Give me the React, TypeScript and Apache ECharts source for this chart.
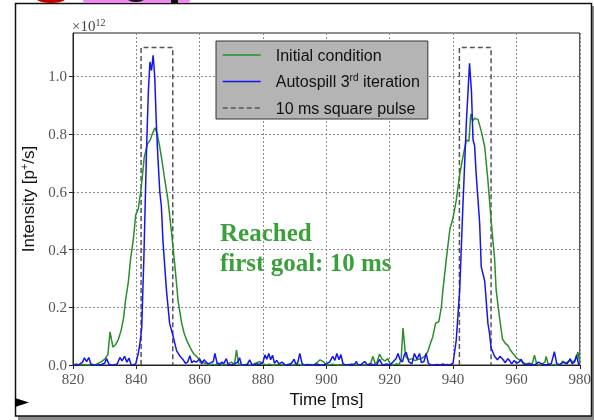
import React, { useEffect, useRef } from "react";
import * as echarts from "echarts";

// Time axis [ms] and intensity [10^12 p+/s] for the initial spill
const initialTime = [
  820, 821, 822, 823, 824, 825, 826, 827, 828, 829, 830, 831, 831.7, 832.6, 833.4, 834.3, 835.2, 836, 836.6,
  837.5, 838.2, 839, 839.8, 840.6, 841.5, 842.5, 843.5, 844.4, 845.2, 845.9, 846.6, 847.4, 848.2, 849, 850,
  851.1, 852.2, 853.2, 854.3, 855.1, 855.9, 857, 858, 859, 860, 861, 862, 863, 864, 865, 866, 867, 868, 869,
  870, 871, 871.6, 872.3, 873, 874, 875, 876, 877, 878, 879, 880, 881, 882, 883, 884, 885, 886, 887, 888, 889,
  890, 891, 892, 893, 894, 895, 896, 897, 898, 899, 900, 901, 902, 903, 904, 905, 906, 907, 908, 909, 910, 911,
  912, 913, 914, 914.7, 915.4, 916, 916.8, 917.6, 918.5, 919.4, 920, 921, 922, 923, 923.6, 924.2, 925, 926, 927,
  928, 929, 930, 931, 932, 933, 933.6, 934.5, 935.5, 936.3, 936.8, 937.9, 939, 940, 941, 942.1, 943.1, 944.2,
  945, 945.6, 946.2, 946.8, 947.9, 948.9, 950, 951, 952.1, 953.1, 953.6, 954.6, 955.6, 956.5, 957.3, 958.2,
  958.9, 960, 961, 962, 963, 964, 965, 965.7, 966.4, 967, 968, 969, 969.4, 970, 971, 972, 973, 974, 974.6,
  975.5, 976, 976.7, 977.5, 978.5, 979.4, 980,
];
const initialIntensity = [
  0.0, 0.004, 0.0, 0.002, 0.0, 0.0, 0.003, 0.0, 0.006, 0.012, 0.02, 0.035, 0.115, 0.062, 0.07, 0.088, 0.12,
  0.165, 0.225, 0.29, 0.37, 0.43, 0.52, 0.54, 0.61, 0.72, 0.765, 0.78, 0.805, 0.822, 0.8, 0.755, 0.7, 0.64,
  0.57, 0.46, 0.34, 0.22, 0.145, 0.11, 0.086, 0.06, 0.04, 0.03, 0.017, 0.01, 0.004, 0.0, 0.003, 0.0, 0.006,
  0.0, 0.0, 0.004, 0.01, 0.002, 0.052, 0.004, 0.0, 0.0, 0.003, 0.0, 0.004, 0.008, 0.012, 0.004, 0.0, 0.003,
  0.0, 0.0, 0.002, 0.0, 0.0, 0.003, 0.0, 0.0, 0.004, 0.0, 0.0, 0.0, 0.002, 0.0, 0.008, 0.018, 0.012, 0.0, 0.0,
  0.003, 0.0, 0.0, 0.002, 0.0, 0.0, 0.004, 0.0, 0.0, 0.002, 0.0, 0.0, 0.006, 0.03, 0.004, 0.01, 0.038, 0.02,
  0.014, 0.022, 0.006, 0.0, 0.004, 0.002, 0.02, 0.128, 0.03, 0.018, 0.022, 0.015, 0.02, 0.022, 0.03, 0.046,
  0.08, 0.098, 0.145, 0.15, 0.2, 0.26, 0.37, 0.47, 0.51, 0.57, 0.66, 0.72, 0.78, 0.775, 0.87, 0.845, 0.855,
  0.85, 0.81, 0.755, 0.64, 0.49, 0.37, 0.26, 0.17, 0.09, 0.075, 0.068, 0.05, 0.04, 0.025, 0.018, 0.01, 0.004,
  0.006, 0.004, 0.034, 0.004, 0.0, 0.002, 0.01, 0.03, 0.004, 0.0, 0.002, 0.0, 0.003, 0.014, 0.004, 0.01, 0.015,
  0.012, 0.014, 0.045, 0.01,
];

// Time axis [ms] and intensity [10^12 p+/s] after the third Autospill iteration
const autospillTime = [
  820, 821, 822, 823, 823.6, 824.3, 825, 825.6, 826, 827, 828, 829, 830, 830.6, 831.3, 832, 833, 834, 834.8,
  835.5, 836.3, 837, 837.7, 838.3, 839, 839.8, 840.6, 841.2, 841.7, 842.4, 843.2, 843.8, 844.3, 844.8, 845.3,
  845.8, 846.3, 846.8, 847.4, 847.9, 848.4, 849.5, 850.5, 851.6, 852.7, 853.8, 854.8, 855.5, 856.2, 856.9,
  857.5, 858.2, 859, 860, 860.6, 861.4, 862, 862.7, 863.5, 864.3, 864.8, 865.5, 866.3, 867, 867.6, 868.4, 869,
  870, 871, 872, 872.6, 873.2, 874, 875, 875.8, 876.5, 877, 878, 879, 880, 880.6, 881.2, 881.8, 882.4, 883,
  883.6, 884.3, 885, 886, 886.6, 887, 888, 889, 889.8, 890.4, 891, 891.6, 892.3, 893, 894, 895, 896, 897, 898,
  899, 900, 901, 902, 902.7, 903.3, 904, 904.6, 905.2, 906, 907, 908, 909, 909.5, 910, 911, 912.1, 913, 914,
  915, 916, 916.8, 917.5, 918, 919, 920, 921, 922, 922.6, 923.2, 924, 924.6, 925.2, 926, 927, 927.8, 928.6,
  929.4, 930, 930.8, 931.5, 932.2, 933, 934, 935, 936, 936.8, 937.5, 938, 939, 940, 941, 942.1, 943.1, 944.2,
  945.2, 945.8, 946.3, 946.8, 947.3, 948.4, 948.9, 950, 951, 951.5, 952, 953.1, 954, 954.8, 955.7, 956.5, 957.3,
  957.8, 958.5, 959.3, 960, 961, 961.5, 962.2, 963.1, 964, 965, 966, 967, 968, 969, 970, 971, 972, 972.7,
  973.6, 974, 975, 976, 977, 977.6, 978.3, 979, 979.6, 980,
];
const autospillIntensity = [
  0.0, 0.0, 0.002, 0.01, 0.025, 0.012, 0.026, 0.004, 0.0, 0.0, 0.0, 0.002, 0.006, 0.022, 0.004, 0.0, 0.0, 0.004,
  0.026, 0.014, 0.03, 0.01, 0.024, 0.002, 0.0, 0.004, 0.04, 0.08, 0.13, 0.38, 0.74, 0.95, 1.05, 1.02, 1.073, 1.0,
  0.84, 0.72, 0.6, 0.55, 0.43, 0.26, 0.145, 0.1, 0.05, 0.03, 0.018, 0.006, 0.01, 0.032, 0.008, 0.014, 0.01,
  0.022, 0.004, 0.018, 0.01, 0.004, 0.008, 0.012, 0.04, 0.006, 0.002, 0.01, 0.004, 0.022, 0.002, 0.0, 0.004,
  0.01, 0.025, 0.0, 0.0, 0.002, 0.018, 0.0, 0.0, 0.004, 0.002, 0.01, 0.035, 0.02, 0.04, 0.018, 0.034, 0.006,
  0.016, 0.004, 0.01, 0.004, 0.0, 0.0, 0.006, 0.02, 0.002, 0.01, 0.04, 0.006, 0.0, 0.002, 0.0, 0.0, 0.004, 0.0,
  0.0, 0.004, 0.01, 0.03, 0.016, 0.04, 0.018, 0.036, 0.006, 0.0, 0.002, 0.0, 0.004, 0.012, 0.0, 0.002, 0.012,
  0.0, 0.004, 0.0, 0.002, 0.02, 0.004, 0.0, 0.004, 0.0, 0.01, 0.022, 0.04, 0.02, 0.01, 0.036, 0.044, 0.012,
  0.004, 0.04, 0.02, 0.04, 0.008, 0.012, 0.04, 0.006, 0.0, 0.0, 0.002, 0.0, 0.004, 0.0, 0.002, 0.0, 0.006,
  0.086, 0.26, 0.55, 0.84, 1.045, 0.95, 0.78, 0.76, 0.66, 0.49, 0.34, 0.29, 0.145, 0.11, 0.06, 0.03, 0.018,
  0.03, 0.02, 0.008, 0.022, 0.016, 0.004, 0.016, 0.006, 0.012, 0.02, 0.004, 0.0, 0.004, 0.0, 0.002, 0.01, 0.004,
  0.0, 0.002, 0.004, 0.046, 0.006, 0.0, 0.004, 0.01, 0.004, 0.022, 0.004, 0.01, 0.034, 0.004, 0.0,
];

// 10 ms square reference pulses: [start, end] in ms and their height
const pulseWindows = [
  [841.5, 851.5],
  [942, 952],
];
const pulseHeight = 1.1;

const seriesNames = ["Initial condition", "Autospill 3rd iteration", "10 ms square pulse"];

const GREEN = "#2a8f2a";
const BLUE = "#1515f0";
const PULSE = "#555555";

const pair = (t: number[], v: number[]) => t.map((x, i) => [x, v[i]]);

export default function App() {
  const ref = useRef<HTMLDivElement>(null);

  useEffect(() => {
    const chart = echarts.init(ref.current!, null, { renderer: "svg" });

    const pulseSeries = pulseWindows.map(([a, b]) => ({
      name: seriesNames[2],
      type: "line",
      symbol: "none",
      z: 3,
      data: [
        [a, 0],
        [a, pulseHeight],
        [b, pulseHeight],
        [b, 0],
      ],
      lineStyle: { color: PULSE, width: 1.5, type: [5, 3] },
      itemStyle: { color: PULSE },
    }));

    const sansTitle = { fontFamily: "Liberation Sans", fontSize: 17, color: "#111" };
    const serifTick = { fontFamily: "Liberation Serif", fontSize: 15, color: "#555" };
    const gridLine = { show: true, lineStyle: { color: "#8a8a8a", type: [2, 2], width: 1 } };

    chart.setOption({
      animation: false,
      backgroundColor: "transparent",
      grid: {
        left: 73,
        right: 14,
        top: 33,
        bottom: 55,
        show: true,
        borderColor: "#222",
        borderWidth: 1,
        backgroundColor: "transparent",
      },
      xAxis: {
        type: "value",
        min: 820,
        max: 980,
        interval: 20,
        name: "Time [ms]",
        nameLocation: "middle",
        nameGap: 19,
        nameTextStyle: sansTitle,
        axisLine: { show: true, lineStyle: { color: "#222", width: 1 } },
        axisTick: { show: true, length: 4, lineStyle: { color: "#222" } },
        axisLabel: { ...serifTick, margin: 6 },
        splitLine: gridLine,
      },
      yAxis: {
        type: "value",
        min: 0,
        max: 1.15,
        interval: 0.2,
        name: "{a|Intensity [p}{s|+}{a|/s]}",
        nameLocation: "middle",
        nameGap: 33,
        nameRotate: 90,
        nameTextStyle: {
          ...sansTitle,
          rich: {
            a: { ...sansTitle, lineHeight: 20 },
            s: { fontFamily: "Liberation Sans", fontSize: 11, color: "#111", verticalAlign: "top", lineHeight: 20 },
          },
        },
        axisLine: { show: true, lineStyle: { color: "#222", width: 1 } },
        axisTick: { show: true, length: 4, lineStyle: { color: "#222" } },
        axisLabel: {
          ...serifTick,
          margin: 6,
          showMaxLabel: false,
          formatter: (v: number) => v.toFixed(1),
        },
        splitLine: gridLine,
      },
      legend: {
        left: 216,
        top: 41,
        orient: "vertical",
        backgroundColor: "#b4b4b4",
        borderColor: "#333",
        borderWidth: 1,
        padding: [5, 8, 2, 6],
        itemWidth: 38,
        itemHeight: 18,
        itemGap: 8.5,
        data: seriesNames,
        // plain line keys, no point markers
        itemStyle: { opacity: 0 },
        lineStyle: { width: 1.5 },
        textStyle: {
          fontFamily: "Liberation Sans",
          fontSize: 16,
          color: "#111",
          lineHeight: 18,
          padding: [0, 0, 0, 10],
          rich: {
            a: { fontFamily: "Liberation Sans", fontSize: 16, color: "#111", lineHeight: 18 },
            s: { fontFamily: "Liberation Sans", fontSize: 10, color: "#111", lineHeight: 18, verticalAlign: "top" },
          },
        },
        formatter: (n: string) => {
          const m = n.match(/^(.*\d)(rd)(.*)$/);
          return m ? `{a|${m[1]}}{s|${m[2]}}{a|${m[3]}}` : `{a|${n}}`;
        },
      },
      graphic: [
        // outer frame with a drop shadow
        { type: "rect", z: -20, shape: { x: 18, y: 6, width: 576, height: 414 }, style: { fill: "#8c8c8c" } },
        {
          type: "rect",
          z: -19,
          shape: { x: 15.5, y: 3.5, width: 576, height: 412.5 },
          style: { fill: "#fff", stroke: "#111", lineWidth: 1.5 },
        },
        // slivers of the slide header
        { type: "ellipse", z: -18, shape: { cx: 51, cy: -2, rx: 15, ry: 5 }, style: { fill: "#c40000" } },
        { type: "rect", z: -18, shape: { x: 83, y: -4, width: 107, height: 7, r: 3 }, style: { fill: "#ee88ee" } },
        { type: "ellipse", z: -17, shape: { cx: 136, cy: -2, rx: 9, ry: 4 }, style: { fill: "#111" } },
        { type: "rect", z: -17, shape: { x: 171, y: 0, width: 7, height: 3 }, style: { fill: "#111" } },
        // slide pointer
        {
          type: "polygon",
          z: 10,
          shape: { points: [[15, 398], [29, 402.5], [15, 407]] },
          style: { fill: "#000" },
        },
        // axis multiplier
        {
          type: "text",
          x: 72,
          y: 26,
          style: {
            text: "{a|×10}{s|12}",
            verticalAlign: "middle",
            rich: {
              a: { fontFamily: "Liberation Serif", fontSize: 15, fill: "#444", lineHeight: 18 },
              s: { fontFamily: "Liberation Serif", fontSize: 10, fill: "#444", lineHeight: 18, verticalAlign: "top" },
            },
          },
        },
        // annotation
        {
          type: "text",
          x: 220,
          y: 217,
          style: {
            text: "Reached\nfirst goal: 10 ms",
            fontFamily: "Liberation Serif",
            fontWeight: "bold",
            fontSize: 25,
            lineHeight: 30,
            fill: "#3aa03a",
          },
        },
      ],
      series: [
        {
          name: seriesNames[0],
          type: "line",
          symbol: "none",
          z: 4,
          data: pair(initialTime, initialIntensity),
          lineStyle: { color: GREEN, width: 1.5 },
          itemStyle: { color: GREEN },
        },
        {
          name: seriesNames[1],
          type: "line",
          symbol: "none",
          z: 5,
          data: pair(autospillTime, autospillIntensity),
          lineStyle: { color: BLUE, width: 1.5 },
          itemStyle: { color: BLUE },
        },
        ...pulseSeries,
      ],
    });

    return () => chart.dispose();
  }, []);

  return <div ref={ref} style={{ position: "fixed", left: 0, top: 0, width: 594, height: 420 }} />;
}
